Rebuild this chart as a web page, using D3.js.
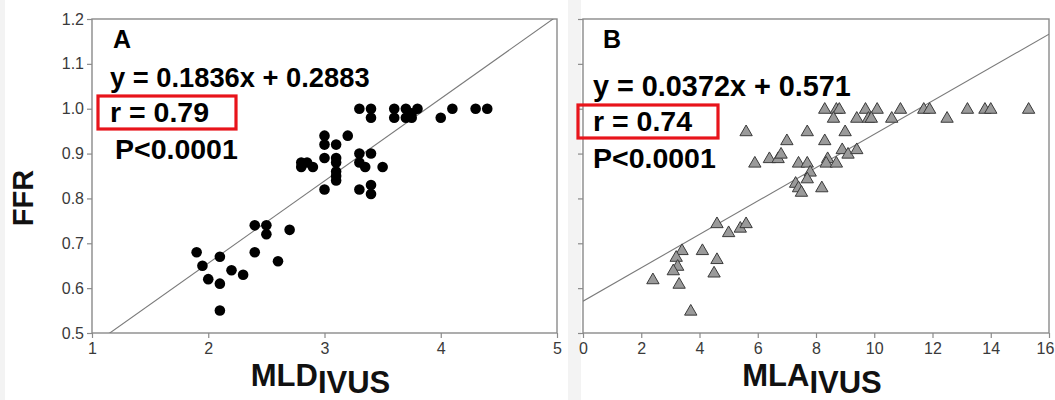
<!DOCTYPE html>
<html>
<head>
<meta charset="utf-8">
<script src="https://cdn.jsdelivr.net/npm/d3@7"></script>
<style>
  body { margin: 0; background: #f3f3f3; }
  svg { display: block; }
  text { font-family: "Liberation Sans", Arial, sans-serif; }
</style>
</head>
<body>
<div id="chart"></div>
<script>
/* DATA */
const yTicks = [0.5, 0.6, 0.7, 0.8, 0.9, 1.0, 1.1, 1.2];
const xTicksA = [1, 2, 3, 4, 5];
const xTicksB = [0, 2, 4, 6, 8, 10, 12, 14, 16];

// panel A: MLD (IVUS) vs FFR
const mldA = [1.9, 1.95, 2.0, 2.1, 2.1, 2.1, 2.2, 2.3, 2.4, 2.4, 2.5, 2.5, 2.6, 2.7,
  2.8, 2.8, 2.85, 2.9,
  3.0, 3.0, 3.0, 3.0, 3.1, 3.1, 3.1, 3.1, 3.1, 3.1, 3.2,
  3.3, 3.3, 3.35, 3.4, 3.5, 3.3, 3.4, 3.4,
  3.3, 3.4, 3.4, 3.6, 3.6, 3.7, 3.7, 3.75, 3.8, 3.75, 4.0, 4.1, 4.3, 4.4];
const ffrA = [0.68, 0.65, 0.62, 0.67, 0.61, 0.55, 0.64, 0.63, 0.74, 0.68, 0.74, 0.72, 0.66, 0.73,
  0.88, 0.87, 0.88, 0.87,
  0.94, 0.92, 0.89, 0.82, 0.92, 0.89, 0.88, 0.86, 0.85, 0.84, 0.94,
  0.90, 0.88, 0.87, 0.90, 0.87, 0.82, 0.83, 0.81,
  1.0, 1.0, 0.98, 1.0, 0.98, 1.0, 0.98, 0.99, 1.0, 0.98, 0.98, 1.0, 1.0, 1.0];

// panel B: MLA (IVUS) vs FFR
const mlaB = [8.3, 8.7, 8.8, 9.7, 10.1, 10.9, 11.7, 11.9, 13.2, 13.8, 14.0, 15.3,
  8.6, 9.4, 9.8, 9.9, 10.6, 12.5,
  5.6, 7.7, 9.0, 7.0, 8.3,
  5.9, 6.4, 6.7, 6.8, 7.4, 7.7, 8.4, 8.35, 8.7, 8.9, 9.1, 9.4,
  7.8, 7.7, 7.3, 7.4, 7.5, 8.2,
  4.6, 5.0, 5.4, 5.6,
  3.4, 3.2, 3.25, 3.1, 4.1, 4.6, 4.5, 2.4, 3.3, 3.7];
const ffrB = [1.0, 1.0, 1.0, 1.0, 1.0, 1.0, 1.0, 1.0, 1.0, 1.0, 1.0, 1.0,
  0.98, 0.98, 0.98, 0.98, 0.98, 0.98,
  0.95, 0.95, 0.95, 0.93, 0.93,
  0.88, 0.89, 0.89, 0.90, 0.88, 0.88, 0.89, 0.88, 0.88, 0.91, 0.90, 0.91,
  0.86, 0.845, 0.835, 0.825, 0.815, 0.825,
  0.745, 0.725, 0.735, 0.745,
  0.685, 0.67, 0.65, 0.64, 0.685, 0.665, 0.635, 0.62, 0.61, 0.55];

const fitSlope = [0.1836, 0.0372];
const fitIntercept = [0.2883, 0.571];
const panelLetters = ["A", "B"];
const eqLabels = ["y = 0.1836x + 0.2883", "y = 0.0372x + 0.571"];
const rLabels = ["r = 0.79", "r = 0.74"];
const pLabels = ["P<0.0001", "P<0.0001"];
const xTitles = ["MLD", "MLA"];

/* LAYOUT */
const width = 1055, height = 400;
const plotTop = 19, plotBottom = 333;

const svg = d3.select("#chart").append("svg")
  .attr("width", width).attr("height", height);

// white panels on grey page
svg.append("rect").attr("x", 5).attr("y", 0).attr("width", 563).attr("height", height).attr("fill", "#fff");
svg.append("rect").attr("x", 581).attr("y", 0).attr("width", width - 581).attr("height", height).attr("fill", "#fff");

const y = d3.scaleLinear().domain([0.5, 1.2]).range([plotBottom, plotTop]);
const xA = d3.scaleLinear().domain([1, 5]).range([92, 557]);
const xB = d3.scaleLinear().domain([0, 16]).range([583, 1049]);

function panel(i, x, xTicks, xs, ys, showYLabels, textOffset) {
  const g = svg.append("g");
  const [x0, x1] = x.range();

  g.append("clipPath").attr("id", "clip" + i)
    .append("rect").attr("x", x0).attr("y", plotTop).attr("width", x1 - x0).attr("height", plotBottom - plotTop);

  // frame
  g.append("rect")
    .attr("x", x0).attr("y", plotTop).attr("width", x1 - x0).attr("height", plotBottom - plotTop)
    .attr("fill", "none").attr("stroke", "#8a8a8a").attr("stroke-width", 1.4);

  // axes
  const xAxis = d3.axisBottom(x).tickValues(xTicks).tickSize(5).tickPadding(5).tickFormat(d3.format("d"));
  const ax = g.append("g").attr("transform", `translate(0,${plotBottom})`).call(xAxis);
  const yAxis = d3.axisLeft(y).tickValues(yTicks).tickSize(5).tickPadding(3)
    .tickFormat(showYLabels ? d3.format(".1f") : () => "");
  const ay = g.append("g").attr("transform", `translate(${x0},0)`).call(yAxis);
  [ax, ay].forEach(a => {
    a.select(".domain").remove();
    a.selectAll(".tick line").attr("stroke", "#8a8a8a").attr("stroke-width", 1.2);
    a.selectAll(".tick text").attr("fill", "#3a3a3a").style("font-size", "16px")
      .style("font-family", "'Liberation Sans', Arial, sans-serif");
  });
  // keep the last x label inside the page
  if (i === 1) ax.selectAll(".tick:last-of-type text").attr("dx", -4);

  // regression line
  const fx = v => fitSlope[i] * v + fitIntercept[i];
  const [d0, d1] = x.domain();
  g.append("line")
    .attr("clip-path", `url(#clip${i})`)
    .attr("x1", x(d0)).attr("y1", y(fx(d0)))
    .attr("x2", x(d1)).attr("y2", y(fx(d1)))
    .attr("stroke", "#7a7a7a").attr("stroke-width", 1.1);

  // points
  const pts = xs.map((v, k) => [v, ys[k]]);
  if (i === 0) {
    g.selectAll("circle.pt").data(pts).join("circle")
      .attr("class", "pt")
      .attr("cx", d => x(d[0])).attr("cy", d => y(d[1]))
      .attr("r", 5.3).attr("fill", "#000");
  } else {
    const tri = d3.symbol().type(d3.symbolTriangle).size(66);
    g.selectAll("path.pt").data(pts).join("path")
      .attr("class", "pt")
      .attr("d", tri)
      .attr("transform", d => `translate(${x(d[0])},${y(d[1]) + 1})`)
      .attr("fill", "#9a9a9a").attr("stroke", "#3a3a3a").attr("stroke-width", 1);
  }

  // annotations
  const tx = x0 + (i === 0 ? 18 : 10);
  const dy = textOffset;
  g.append("text").attr("x", x0 + (i === 0 ? 21 : 20)).attr("y", 48)
    .attr("font-weight", "bold").attr("font-size", 25).text(panelLetters[i]);
  g.append("text").attr("x", tx).attr("y", 87 + dy)
    .attr("font-weight", "bold").attr("font-size", i === 0 ? 27.3 : 28.8).text(eqLabels[i]);
  g.append("text").attr("x", tx).attr("y", 122 + dy)
    .attr("font-weight", "bold").attr("font-size", 28.5).text(rLabels[i]);
  g.append("text").attr("x", tx + (i === 0 ? 5 : 0)).attr("y", 159 + dy)
    .attr("font-weight", "bold").attr("font-size", 28.5).text(pLabels[i]);
  g.append("rect")
    .attr("x", x0 + (i === 0 ? 6 : -5)).attr("y", 96 + dy)
    .attr("width", (i === 0 ? 138 : 140)).attr("height", 33)
    .attr("fill", "none").attr("stroke", "#e8141b").attr("stroke-width", 3.2);

  // x title with subscript
  const t = g.append("text")
    .attr("x", (x0 + x1) / 2 - 4).attr("y", 386)
    .attr("text-anchor", "middle").attr("font-weight", "bold").attr("font-size", 31)
    .attr("fill", "#111");
  t.append("tspan").text(xTitles[i]);
  t.append("tspan").attr("dy", 7).text("IVUS");
}

panel(0, xA, xTicksA, mldA, ffrA, true, 0);
panel(1, xB, xTicksB, mlaB, ffrB, false, 9);

// y title
svg.append("text")
  .attr("transform", `translate(33,198) rotate(-90)`)
  .attr("text-anchor", "middle").attr("font-weight", "bold").attr("font-size", 29)
  .attr("fill", "#111").text("FFR");
</script>
</body>
</html>
